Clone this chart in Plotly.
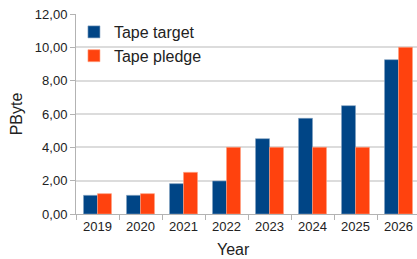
import plotly.graph_objects as go

years = ["2019", "2020", "2021", "2022", "2023", "2024", "2025", "2026"]
tape_target = [1.12, 1.12, 1.82, 1.98, 4.52, 5.74, 6.5, 9.26]
tape_pledge = [1.22, 1.22, 2.5, 4.0, 4.0, 4.0, 4.0, 10.0]
y_ticks = [0, 2, 4, 6, 8, 10, 12]

fig = go.Figure()
fig.add_trace(go.Bar(x=years, y=tape_target, name="Tape target",
                     marker=dict(color="#004586", line=dict(color="#7f9fc0", width=0.6))))
fig.add_trace(go.Bar(x=years, y=tape_pledge, name="Tape pledge",
                     marker=dict(color="#ff420e", line=dict(color="#ffa080", width=0.6))))

fig.update_layout(
    width=417, height=259,
    margin=dict(l=76, r=0, t=14, b=45, autoexpand=False),
    paper_bgcolor="white", plot_bgcolor="white",
    separators=",.",
    font=dict(family="Liberation Sans, Arial, sans-serif", size=13, color="#222222"),
    barmode="group", bargap=0.35, bargroupgap=0,
    showlegend=True,
    legend=dict(x=-0.006, y=0.995, xanchor="left", yanchor="top",
                bgcolor="rgba(0,0,0,0)", font=dict(size=16, color="#222222"),
                itemwidth=30),
    xaxis=dict(range=[-0.5, 7.43],
               showline=True, linecolor="#b3b3b3", linewidth=1,
               ticks="outside", ticklen=5, tickcolor="#b3b3b3",
               tickson="boundaries", showgrid=False,
               tickfont=dict(size=13, color="#222222")),
    yaxis=dict(title=dict(text="PByte", font=dict(size=16, color="#222222"), standoff=8),
               range=[0, 12], tickvals=y_ticks, tickformat=".2f",
               showline=True, linecolor="#b3b3b3", linewidth=1,
               ticks="outside", ticklen=5, tickcolor="#b3b3b3",
               showgrid=True, gridcolor="#dcdcdc", gridwidth=1.5,
               zeroline=False,
               tickfont=dict(size=13, color="#222222")),
    annotations=[dict(text="Year", xref="paper", yref="paper",
                      x=(233.5 - 76) / 341, y=0, yshift=-35,
                      xanchor="center", yanchor="middle", showarrow=False,
                      font=dict(size=16, color="#222222"))],
)

fig.write_html("out.html",
               config={"displayModeBar": False},
               post_script="document.body.style.margin='0';document.body.style.overflow='hidden';")
